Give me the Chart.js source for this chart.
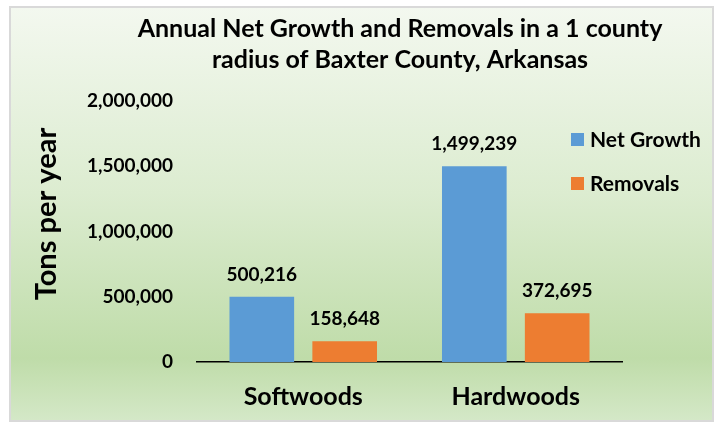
<!DOCTYPE html>
<html>
<head>
<meta charset="utf-8">
<script src="https://cdn.jsdelivr.net/npm/chart.js@4"></script>
<style>
  html, body { margin: 0; padding: 0; background: #ffffff; }
  #wrap { width: 720px; height: 425px; position: relative; }
</style>
</head>
<body>
<div id="wrap"><canvas id="c" width="720" height="425"></canvas></div>
<script>
const categories = ["Softwoods", "Hardwoods"];
const seriesNames = ["Net Growth", "Removals"];
const netGrowth = [500216, 1499239];
const removals = [158648, 372695];
const yTicks = [0, 500000, 1000000, 1500000, 2000000];
const titleLines = ["Annual Net Growth and Removals in a 1 county", "radius of Baxter County, Arkansas"];
const yTitle = "Tons per year";

const FONT = "Lato, 'Open Sans', sans-serif";
const fmt = v => v.toLocaleString('en-US');

const bgPlugin = {
  id: 'bg',
  beforeDraw(chart) {
    const ctx = chart.ctx;
    ctx.save();
    ctx.fillStyle = '#ffffff';
    ctx.fillRect(0, 0, chart.width, chart.height);
    const g = ctx.createLinearGradient(0, 8, 0, 420);
    g.addColorStop(0, '#f3f8ef');
    g.addColorStop(0.45, '#dcecd0');
    g.addColorStop(0.85, '#bfdca9');
    g.addColorStop(1, '#d4e8c7');
    ctx.fillStyle = g;
    ctx.fillRect(11, 8, 701, 412);
    ctx.strokeStyle = '#d9d9d9';
    ctx.lineWidth = 2;
    ctx.strokeRect(10, 7, 703, 414);
    ctx.restore();
  }
};

const textPlugin = {
  id: 'texts',
  afterDraw(chart) {
    const ctx = chart.ctx;
    ctx.save();
    ctx.fillStyle = '#000';
    // title
    ctx.font = "bold 25px " + FONT;
    ctx.textAlign = 'center';
    ctx.textBaseline = 'middle';
    ctx.fillText(titleLines[0], 400, 29);
    ctx.fillText(titleLines[1], 400, 60);
    // y title
    ctx.save();
    ctx.translate(47, 214);
    ctx.rotate(-Math.PI / 2);
    ctx.font = "bold 29px " + FONT;
    ctx.fillText(yTitle, 0, 0);
    ctx.restore();
    // legend
    ctx.font = "bold 21px " + FONT;
    ctx.textAlign = 'left';
    const x0 = chart.chartArea.right - 51;
    const ys = [chart.chartArea.top + 38, chart.chartArea.top + 82];
    chart.data.datasets.forEach((ds, i) => {
      ctx.fillStyle = ds.backgroundColor;
      ctx.fillRect(x0, ys[i] - 6, 13, 13);
      ctx.fillStyle = '#000';
      ctx.fillText(ds.label, x0 + 19, ys[i] + 1);
    });
    ctx.restore();
  }
};

const labelPlugin = {
  id: 'vlabels',
  afterDatasetsDraw(chart) {
    const ctx = chart.ctx;
    ctx.save();
    ctx.font = "bold 19px " + FONT;
    ctx.fillStyle = '#000';
    ctx.textAlign = 'center';
    ctx.textBaseline = 'middle';
    chart.data.datasets.forEach((ds, i) => {
      const meta = chart.getDatasetMeta(i);
      meta.data.forEach((bar, j) => {
        ctx.fillText(fmt(ds.data[j]), bar.x, bar.y - 22);
      });
    });
    ctx.restore();
  }
};

new Chart(document.getElementById('c'), {
  type: 'bar',
  data: {
    labels: categories,
    datasets: [
      { label: seriesNames[0], data: netGrowth, backgroundColor: '#5B9BD5' },
      { label: seriesNames[1], data: removals, backgroundColor: '#ED7D31' }
    ]
  },
  options: {
    responsive: false,
    animation: false,
    devicePixelRatio: 1,
    layout: { padding: { left: 12, right: 98, top: 101, bottom: 12 } },
    datasets: { bar: { categoryPercentage: 0.78, barPercentage: 0.78 } },
    plugins: {
      legend: { display: false },
      tooltip: { enabled: false },
      title: { display: false }
    },
    scales: {
      x: {
        afterFit(scale) { scale.height = 51; },
        grid: { display: false, drawTicks: false },
        border: { display: true, color: '#000', width: 1.5 },
        ticks: { color: '#000', font: { family: FONT, size: 25, weight: 'bold' }, padding: 20 }
      },
      y: {
        min: 0, max: 2000000,
        afterBuildTicks(scale) { scale.ticks = yTicks.map(v => ({ value: v })); },
        afterFit(scale) { scale.width = 185; },
        grid: { display: false, drawTicks: false },
        border: { display: false },
        ticks: {
          color: '#000',
          font: { family: FONT, size: 19, weight: 'bold' },
          padding: 24,
          callback: v => fmt(v)
        }
      }
    }
  },
  plugins: [bgPlugin, labelPlugin, textPlugin]
});
</script>
</body>
</html>
